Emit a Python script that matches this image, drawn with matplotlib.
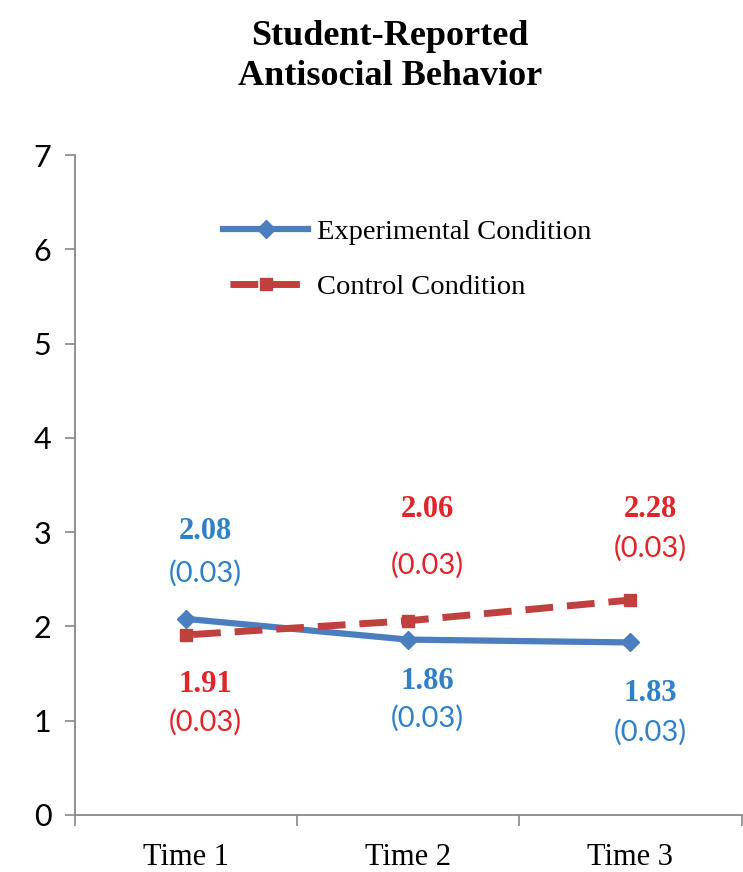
import matplotlib
matplotlib.use("Agg")
import matplotlib.pyplot as plt

categories = ["Time 1", "Time 2", "Time 3"]
experimental = [2.08, 1.86, 1.83]
control = [1.91, 2.06, 2.28]
exp_se = [0.03, 0.03, 0.03]
ctrl_se = [0.03, 0.03, 0.03]
yticks = [0, 1, 2, 3, 4, 5, 6, 7]

plt.rcParams['font.family'] = ['Liberation Serif', 'DejaVu Serif']

BLUE_LINE = "#4a7ebf"
RED_LINE = "#c0403d"
BLUE_TXT = "#2f80c8"
RED_TXT = "#e0242a"

fig = plt.figure(figsize=(7.43, 8.72), dpi=100)
ax = fig.add_axes([0.101, 0.0654, 0.897, 0.7568])

x = list(range(1, len(categories) + 1))
ax.plot(x, experimental, color=BLUE_LINE, lw=4.5, marker='D', ms=9,
        label="Experimental Condition", zorder=3)
ax.plot(x, control, color=RED_LINE, lw=5, ls=(5, (4, 2)), marker='s', ms=8,
        label="Control Condition", zorder=3)

ax.set_xlim(0.5, 3.5)
ax.set_ylim(0, 7)
ax.set_yticks(yticks)
ax.set_yticklabels([str(v) for v in yticks], family=['Lato', 'DejaVu Sans'])
ax.set_xticks(x)
ax.set_xticklabels(categories, fontsize=22)
ax.tick_params(axis='y', labelsize=22, length=7, width=1.2, color='#888888', pad=10)
ax.tick_params(axis='x', which='major', length=0, pad=20)
ax.set_xticks([0.5, 1.5, 2.5, 3.5], minor=True)
ax.tick_params(axis='x', which='minor', length=8, width=1.2, color='#888888')
for s in ['top', 'right']:
    ax.spines[s].set_visible(False)
for s in ['left', 'bottom']:
    ax.spines[s].set_color('#888888')
    ax.spines[s].set_linewidth(1.3)

dx_pts = 14


def label(xi, val, se, color, dv, ds):
    ax.annotate(f"{val:.2f}", (xi, val), xytext=(dx_pts, dv), textcoords='offset points',
                ha='center', va='center', fontsize=22, fontweight='bold', color=color)
    ax.annotate(f"({se:.2f})", (xi, val), xytext=(dx_pts, ds), textcoords='offset points',
                ha='center', va='center', fontsize=21, color=color,
                family=['Lato', 'DejaVu Sans'])

# experimental
label(1, experimental[0], exp_se[0], BLUE_TXT, 63, 33)
label(2, experimental[1], exp_se[1], BLUE_TXT, -30, -57)
label(3, experimental[2], exp_se[2], BLUE_TXT, -37, -65)
# control
label(1, control[0], ctrl_se[0], RED_TXT, -36, -63)
label(2, control[1], ctrl_se[1], RED_TXT, 80, 40)
label(3, control[2], ctrl_se[2], RED_TXT, 65, 37)

leg = ax.legend(loc='upper left', bbox_to_anchor=(0.205, 0.92), frameon=False,
                fontsize=20.5, handlelength=3.0, handletextpad=0.3, labelspacing=1.0,
                borderaxespad=0)

fig.text(0.525, 0.958, "Student-Reported", ha='center', va='center',
         fontsize=26, fontweight='bold')
fig.text(0.525, 0.912, "Antisocial Behavior", ha='center', va='center',
         fontsize=26, fontweight='bold')

fig.savefig("out.png", dpi=100)
